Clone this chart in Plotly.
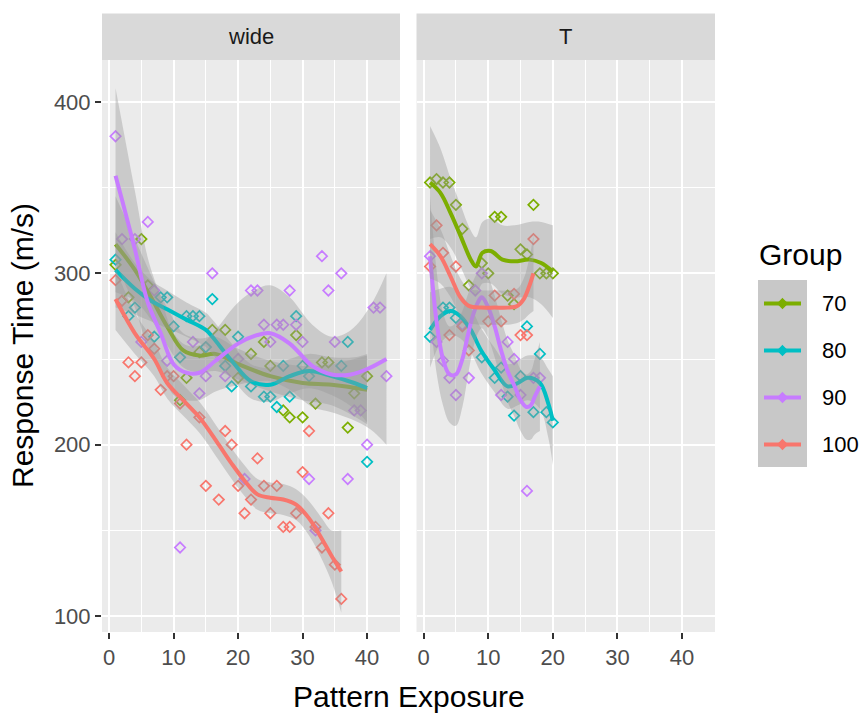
import plotly.graph_objects as go

# ---------------- data ----------------
groups = ["70", "80", "90", "100"]
colors = {"70": "#7CAE00", "80": "#00BFC4", "90": "#C77CFF", "100": "#F8766D"}
facets = ["wide", "T"]

# --- raw points, facet "wide"
wide_70_x = [1, 3, 5, 6, 11, 12, 14, 16, 18, 20, 22, 24, 25, 27, 28, 29, 30, 32, 33, 34, 37, 38, 40]
wide_70_y = [305, 286, 320, 293, 226, 239, 254, 267, 267, 239, 253, 260, 246, 220, 216, 264, 216, 224, 248, 248, 210, 230, 240]
wide_80_x = [1, 3, 4, 7, 8, 9, 10, 11, 12, 13, 14, 15, 16, 18, 19, 20, 22, 24, 25, 26, 27, 28, 29, 30, 31, 36, 37, 40]
wide_80_y = [308, 275, 280, 263, 286, 286, 269, 251, 275, 275, 275, 257, 285, 246, 234, 263, 234, 228, 228, 222, 246, 228, 275, 246, 240, 246, 260, 190]
wide_90_x = [1, 2, 4, 5, 6, 7, 9, 11, 13, 14, 15, 16, 18, 20, 21, 22, 23, 24, 25, 26, 27, 28, 29, 30, 31, 32, 33, 34, 35, 36, 37, 38, 39, 40, 41, 42, 43]
wide_90_y = [380, 320, 320, 260, 330, 290, 249, 140, 260, 230, 240, 300, 240, 250, 180, 290, 290, 270, 260, 270, 270, 290, 270, 260, 180, 150, 310, 290, 260, 300, 180, 220, 220, 200, 280, 280, 240]
wide_100_x = [1, 2, 3, 4, 5, 6, 7, 8, 9, 10, 11, 12, 14, 15, 17, 18, 19, 20, 21, 22, 23, 24, 25, 26, 27, 28, 29, 30, 31, 32, 33, 34, 35, 36]
wide_100_y = [296, 284, 248, 240, 248, 264, 256, 232, 240, 240, 224, 200, 216, 176, 168, 208, 200, 176, 160, 168, 192, 176, 160, 176, 152, 152, 160, 184, 208, 152, 140, 160, 130, 110]

# --- raw points, facet "T"
t_70_x = [1, 2, 3, 4, 5, 6, 7, 9, 10, 11, 12, 13, 14, 15, 16, 17, 18, 19, 20]
t_70_y = [353, 355, 353, 353, 340, 326, 293, 306, 300, 333, 333, 287, 282, 314, 311, 340, 300, 300, 300]
t_80_x = [1, 3, 4, 5, 9, 11, 12, 13, 14, 15, 16, 17, 18, 19, 20]
t_80_y = [263, 280, 280, 274, 251, 239, 245, 228, 217, 240, 269, 219, 253, 219, 213]
t_90_x = [1, 2, 3, 4, 5, 6, 7, 8, 9, 12, 13, 14, 15, 16, 17, 18]
t_90_y = [310, 260, 249, 239, 229, 270, 239, 290, 300, 229, 260, 250, 229, 173, 239, 239]
t_100_x = [1, 2, 3, 4, 5, 6, 7, 10, 11, 12, 14, 15, 16, 17]
t_100_y = [304, 328, 312, 264, 304, 269, 255, 272, 287, 272, 288, 264, 264, 320]

# --- smoothed curves (loess fit) and confidence half-widths
s_wide_70_x = [1, 4, 6.5, 9, 11.5, 14, 16.5, 20, 25, 30, 34.5, 40]
s_wide_70_y = [317, 302, 286, 269, 255, 252, 253, 247, 240, 236, 235, 232]
s_wide_70_h = [28, 18, 13, 11, 10, 10, 10, 9, 9, 10, 12, 20]
s_wide_80_x = [1, 4, 6.5, 9, 12, 15, 16, 19, 22, 25, 28, 31, 34.5, 38, 40]
s_wide_80_y = [302, 291, 284, 279, 273, 267, 263, 249, 237, 235, 240, 243, 240, 236, 233]
s_wide_80_h = [22, 15, 12, 11, 10, 10, 10, 10, 10, 10, 10, 10, 11, 15, 20]
s_wide_90_x = [1, 2, 4, 6, 8, 10, 12, 14, 16.5, 20, 23, 25, 28, 31.5, 34.5, 37.5, 40.5, 43]
s_wide_90_y = [357, 343, 314, 283, 265, 247, 242, 242, 249, 259, 264, 265, 259, 246, 241, 241, 245, 250]
s_wide_90_h = [51, 45, 34, 26, 21, 18, 16, 16, 18, 24, 27, 28, 27, 24, 22, 26, 36, 50]
s_wide_100_x = [1, 4, 7, 9, 12, 14, 17, 19, 21, 23, 25, 27, 29, 31, 33, 34.5, 36]
s_wide_100_y = [285, 265, 250, 236, 224, 216, 200, 189, 179, 171, 169, 168, 165, 157, 145, 135, 126]
s_wide_100_h = [18, 12, 10, 9, 9, 9, 9, 9, 9, 9, 9, 9, 9, 10, 12, 15, 24]

s_t_70_x = [1, 2.6, 4.2, 5.7, 7.3, 8.1, 9.1, 10.4, 12.2, 14.1, 16.4, 18.2, 20]
s_t_70_y = [353, 347, 335, 322, 308, 304, 312, 313, 308, 307, 308, 306, 301]
s_t_70_h = [33, 26, 20, 18, 17, 17, 18, 19, 20, 21, 22, 24, 27]
s_t_80_x = [1, 2.6, 4.2, 5.7, 7.3, 8.9, 10.9, 13, 14.6, 16.1, 18, 19.3, 20]
s_t_80_y = [267, 275, 278, 275, 267, 255, 244, 234, 236, 239, 236, 224, 214]
s_t_80_h = [22, 16, 14, 13, 13, 13, 13, 13, 13, 13, 15, 20, 26]
s_t_90_x = [1, 2, 3, 4, 5, 6, 6.8, 7.6, 8.4, 9, 9.9, 11, 12, 13, 14.1, 15, 15.9, 16.6, 17.2, 18]
s_t_90_y = [310, 272, 250, 241, 241, 250, 263, 275, 283, 286, 281, 269, 255, 243, 234, 226, 222, 223, 228, 234]
s_t_90_h = [35, 30, 27, 28, 30, 28, 24, 20, 18, 18, 18, 18, 18, 18, 18, 18, 19, 20, 22, 26]
s_t_100_x = [1, 2.6, 4.2, 5.7, 7, 9, 11, 13, 14.5, 15.5, 16.3, 17]
s_t_100_y = [317, 310, 298, 286, 281, 280, 280, 280, 281, 285, 292, 300]
s_t_100_h = [20, 16, 12, 11, 10, 10, 10, 10, 10, 12, 16, 22]

x_ticks = [0, 10, 20, 30, 40]
y_ticks = [100, 200, 300, 400]

points = {
    "wide": {"70": (wide_70_x, wide_70_y), "80": (wide_80_x, wide_80_y),
             "90": (wide_90_x, wide_90_y), "100": (wide_100_x, wide_100_y)},
    "T": {"70": (t_70_x, t_70_y), "80": (t_80_x, t_80_y),
          "90": (t_90_x, t_90_y), "100": (t_100_x, t_100_y)},
}
smooths = {
    "wide": {"70": (s_wide_70_x, s_wide_70_y, s_wide_70_h), "80": (s_wide_80_x, s_wide_80_y, s_wide_80_h),
             "90": (s_wide_90_x, s_wide_90_y, s_wide_90_h), "100": (s_wide_100_x, s_wide_100_y, s_wide_100_h)},
    "T": {"70": (s_t_70_x, s_t_70_y, s_t_70_h), "80": (s_t_80_x, s_t_80_y, s_t_80_h),
          "90": (s_t_90_x, s_t_90_y, s_t_90_h), "100": (s_t_100_x, s_t_100_y, s_t_100_h)},
}

# ---------------- figure ----------------
W_PX, H_PX = 864, 717
L, T, R, B = 102, 60, 149, 85
PW, PH = W_PX - L - R, H_PX - T - B
FONT = "Liberation Sans, Arial, Helvetica, sans-serif"


def pxx(x):
    return (x - L) / PW


def pxy(y):
    return (T + PH - y) / PH


axes = {"wide": ("x", "y"), "T": ("x2", "y2")}
fig = go.Figure()

for f in facets:
    xa, ya = axes[f]
    for g in groups:
        xs, ys = points[f][g]
        fig.add_trace(go.Scatter(x=xs, y=ys, mode="markers", xaxis=xa, yaxis=ya,
                                 marker=dict(symbol="diamond-open", size=8, color=colors[g],
                                             line=dict(width=1.7, color=colors[g])),
                                 showlegend=False, hoverinfo="skip"))

for f in facets:
    xa, ya = axes[f]
    for g in groups:
        sx, sy, sh = smooths[f][g]
        lo = [v - h for v, h in zip(sy, sh)]
        hi = [v + h for v, h in zip(sy, sh)]
        fig.add_trace(go.Scatter(x=sx, y=lo, mode="lines", xaxis=xa, yaxis=ya,
                                 line=dict(width=0, shape="spline"), showlegend=False, hoverinfo="skip"))
        fig.add_trace(go.Scatter(x=sx, y=hi, mode="lines", xaxis=xa, yaxis=ya, fill="tonexty",
                                 fillcolor="rgba(153,153,153,0.4)",
                                 line=dict(width=0, shape="spline"), showlegend=False, hoverinfo="skip"))
        fig.add_trace(go.Scatter(x=sx, y=sy, mode="lines", xaxis=xa, yaxis=ya,
                                 line=dict(width=4, color=colors[g], shape="spline"),
                                 showlegend=False, hoverinfo="skip"))

xaxis_common = dict(range=[-1.1, 45.1], tickvals=x_ticks, showgrid=True, gridcolor="white", gridwidth=2.2,
                    zeroline=False, ticks="outside", ticklen=6, tickwidth=2, tickcolor="#333333",
                    tickfont=dict(size=22, color="#4D4D4D", family=FONT), showline=False,
                    minor=dict(dtick=5, tick0=0, showgrid=True, gridcolor="white", gridwidth=1.1, ticks=""))
yaxis_common = dict(range=[90.7, 424.5], tickvals=y_ticks, showgrid=True, gridcolor="white", gridwidth=2.2,
                    zeroline=False, showline=False,
                    minor=dict(dtick=50, tick0=0, showgrid=True, gridcolor="white", gridwidth=1.1, ticks=""))

left_dom = [0, 298 / PW]
right_dom = [(416.5 - L) / PW, 1]

fig.update_layout(
    width=W_PX, height=H_PX,
    margin=dict(l=L, r=R, t=T, b=B),
    paper_bgcolor="white", plot_bgcolor="#EBEBEB",
    font=dict(family=FONT, color="black"),
    xaxis=dict(domain=left_dom, anchor="y", **xaxis_common),
    xaxis2=dict(domain=right_dom, anchor="y2", **xaxis_common),
    yaxis=dict(domain=[0, 1], anchor="x", ticks="outside", ticklen=6, tickwidth=2, tickcolor="#333333",
               tickfont=dict(size=22, color="#4D4D4D", family=FONT), **yaxis_common),
    yaxis2=dict(domain=[0, 1], anchor="x2", matches="y", showticklabels=False, ticks="", **yaxis_common),
)

shapes = []
annotations = []
strip_top = 1 + (T - 13.5) / PH
for f in facets:
    xa, ya = axes[f]
    shapes.append(dict(type="rect", xref=f"{xa} domain", yref=f"{ya} domain", x0=0, x1=1, y0=1.0, y1=strip_top,
                       fillcolor="#D9D9D9", line=dict(width=0), layer="below"))
    annotations.append(dict(text=f, xref=f"{xa} domain", yref=f"{ya} domain", x=0.5, y=(1 + strip_top) / 2,
                            showarrow=False, xanchor="center", yanchor="middle",
                            font=dict(size=22, color="#1A1A1A", family=FONT)))

# axis titles
annotations.append(dict(text="Pattern Exposure", xref="paper", yref="paper", x=pxx(408.5), y=pxy(697),
                        showarrow=False, xanchor="center", yanchor="middle",
                        font=dict(size=30, color="black", family=FONT)))
annotations.append(dict(text="Response Time (m/s)", xref="paper", yref="paper", x=pxx(22), y=pxy(346),
                        showarrow=False, xanchor="center", yanchor="middle", textangle=-90,
                        font=dict(size=30, color="black", family=FONT)))

# legend (drawn by hand to reproduce ggplot's grey key background)
annotations.append(dict(text="Group", xref="paper", yref="paper", x=pxx(757), y=pxy(254),
                        showarrow=False, xanchor="left", yanchor="middle",
                        font=dict(size=30, color="black", family=FONT)))
shapes.append(dict(type="rect", xref="paper", yref="paper", x0=pxx(758), x1=pxx(807), y0=pxy(467), y1=pxy(280),
                   fillcolor="#C8C8C8", line=dict(width=0)))
key_y = [303.5, 350.5, 397.5, 444.5]
for g, ky in zip(groups, key_y):
    shapes.append(dict(type="line", xref="paper", yref="paper", x0=pxx(764), x1=pxx(801), y0=pxy(ky), y1=pxy(ky),
                       line=dict(color=colors[g], width=4)))
    cx, d = 782.5, 4.5
    path = (f"M {pxx(cx)},{pxy(ky - d)} L {pxx(cx + d)},{pxy(ky)} L {pxx(cx)},{pxy(ky + d)} "
            f"L {pxx(cx - d)},{pxy(ky)} Z")
    shapes.append(dict(type="path", xref="paper", yref="paper", path=path,
                       line=dict(color=colors[g], width=1.6), fillcolor=colors[g]))
    annotations.append(dict(text=g, xref="paper", yref="paper", x=pxx(820), y=pxy(ky),
                            showarrow=False, xanchor="left", yanchor="middle",
                            font=dict(size=22, color="black", family=FONT)))

fig.update_layout(shapes=shapes, annotations=annotations)
fig.write_html("out.html", config={"displayModeBar": False},
               post_script="document.body.style.margin='0';document.body.style.padding='0';"
                           "document.documentElement.style.margin='0';")
